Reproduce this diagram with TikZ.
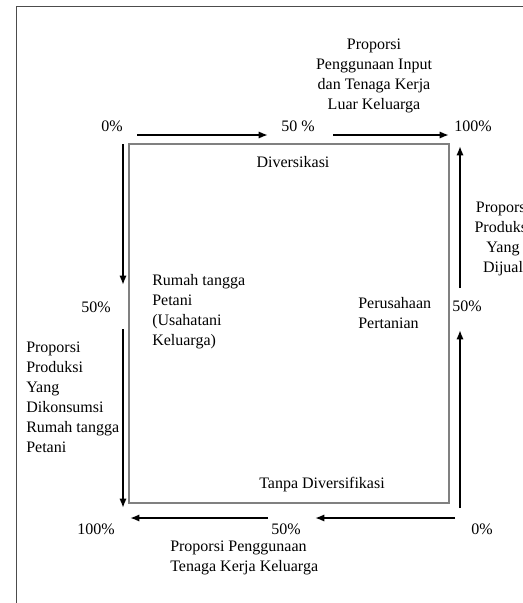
\documentclass[tikz,border=0pt]{standalone}
\usepackage{fontspec}
\setmainfont{Liberation Serif}
\usetikzlibrary{arrows.meta}
\tikzset{arr/.style = {line width=1.4pt, -{Latex[length=7pt,width=5.5pt]}}}
\tikzset{txt/.style = {inner sep=0pt, font=\fontsize{12}{15}\selectfont}}

\begin{document}
\begin{tikzpicture}[x=0.75pt,y=-0.75pt]
\clip (0,0) rectangle (523,603);
\fill[white] (0,0) rectangle (523,603);
\draw[gray!60!black, line width=0.6pt] (16,603) -- (16,6) -- (523,6);
\draw[gray, line width=0.8pt] (129,144) rectangle (449,503);

\node[txt, align=center] (inputluar) at (374,76) {Proporsi\\Penggunaan Input\\dan Tenaga Kerja\\Luar Keluarga};
\node[txt] (topzero) at (112,126) {0\%};
\node[txt] (topfifty) at (298,126) {50 \%};
\node[txt] (topfull) at (473,126) {100\%};
\node[txt] (div) at (293,162) {Diversikasi};
\node[txt] (leftfifty) at (96,307) {50\%};
\node[txt, align=left, anchor=west] (konsumsi) at (26,397) {Proporsi\\Produksi\\Yang\\Dikonsumsi\\Rumah tangga\\Petani};
\node[txt, align=left, anchor=west] (rtpetani) at (152,312) {Rumah tangga\\Petani\\(Usahatani\\Keluarga)};
\node[txt, align=left, anchor=west] (perusahaan) at (358,313) {Perusahaan\\Pertanian};
\node[txt] (rightfifty) at (467,306) {50\%};
\node[txt, align=center] (dijual) at (503,239) {Proporsi\\Produksi\\Yang\\Dijual};
\node[txt] (tanpa) at (322,485) {Tanpa Diversifikasi};
\node[txt] (botfull) at (96,529) {100\%};
\node[txt] (botfifty) at (286,529) {50\%};
\node[txt] (botzero) at (482,529) {0\%};
\node[txt, align=left, anchor=west] (tkkeluarga) at (170,558) {Proporsi Penggunaan\\Tenaga Kerja Keluarga};

\coordinate (ta1) at (137,135);
\coordinate (ta2) at (268,135);
\coordinate (ta3) at (333,135);
\coordinate (ta4) at (449,135);
\coordinate (la1) at (123,144);
\coordinate (la2) at (123,285);
\coordinate (la3) at (123,329);
\coordinate (la4) at (123,508);
\coordinate (ra1) at (460,508);
\coordinate (ra2) at (460,330);
\coordinate (ra3) at (460,288);
\coordinate (ra4) at (460,146);
\coordinate (ba1) at (455,518);
\coordinate (ba2) at (315,518);
\coordinate (ba3) at (268,518);
\coordinate (ba4) at (130,518);

\draw[arr] (ta1) -- (ta2);
\draw[arr] (ta3) -- (ta4);
\draw[arr] (la1) -- (la2);
\draw[arr] (la3) -- (la4);
\draw[arr] (ra1) -- (ra2);
\draw[arr] (ra3) -- (ra4);
\draw[arr] (ba1) -- (ba2);
\draw[arr] (ba3) -- (ba4);
\end{tikzpicture}
\end{document}
